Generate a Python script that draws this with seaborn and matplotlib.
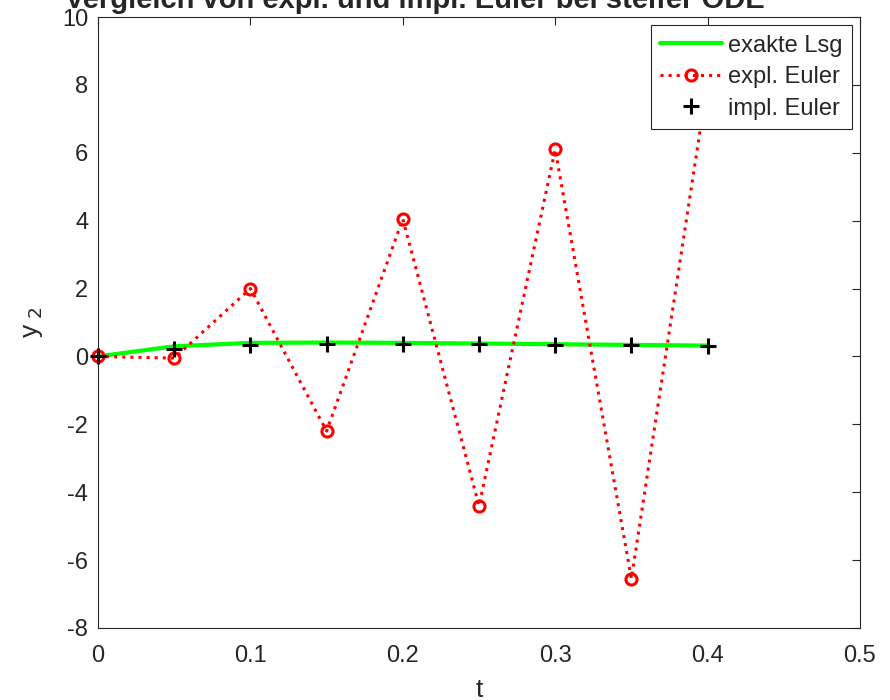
import numpy as np
import pandas as pd
import matplotlib
matplotlib.use("Agg")
import matplotlib.pyplot as plt
import seaborn as sns

t = [0.0, 0.05, 0.10, 0.15, 0.20, 0.25, 0.30, 0.35, 0.40]
exakt = [0.0, 0.30, 0.40, 0.41, 0.40, 0.38, 0.36, 0.34, 0.32]
expl = [0.0, -0.05, 2.0, -2.2, 4.05, -4.4, 6.1, -6.55, 8.1]
impl = [0.0, 0.23, 0.34, 0.37, 0.37, 0.36, 0.34, 0.33, 0.32]

xticks = [0, 0.1, 0.2, 0.3, 0.4, 0.5]
yticks = list(range(-8, 11, 2))

sns.set_style("white")
plt.rcParams['font.family'] = ['Liberation Sans', 'DejaVu Sans']

fig = plt.figure(figsize=(8.9, 7.0), dpi=100)
ax = fig.add_axes([98/890, 1-628/700, (860-98)/890, (628-17)/700])

df = pd.DataFrame({"t": t, "exakt": exakt, "expl": expl, "impl": impl})

sns.lineplot(data=df, x="t", y="exakt", ax=ax, color=(0, 1, 0), linewidth=3,
             label="exakte Lsg", sort=False, estimator=None)
sns.lineplot(data=df, x="t", y="expl", ax=ax, color="red", linestyle=":", linewidth=2.2,
             marker="o", markersize=8, markerfacecolor="none", markeredgecolor="red",
             markeredgewidth=2.2, label="expl. Euler", sort=False, estimator=None,
             clip_on=False)
sns.lineplot(data=df, x="t", y="impl", ax=ax, color="black", linestyle="none",
             marker="+", markersize=12, markeredgewidth=2.2, markeredgecolor="black",
             label="impl. Euler", sort=False, estimator=None, clip_on=False)

ax.set_xlim(0, 0.5)
ax.set_ylim(-8, 10)
ax.set_xticks(xticks)
ax.set_xticklabels([f"{v:g}" for v in xticks])
ax.set_yticks(yticks)
ax.set_yticklabels([str(v) for v in yticks])
ax.tick_params(direction="in", top=True, right=True, length=6, width=0.8,
               labelsize=17, color="#262626", labelcolor="#262626")
ax.tick_params(axis="x", pad=12)
ax.tick_params(axis="y", pad=7)
for s in ax.spines.values():
    s.set_color("#262626")
    s.set_linewidth(0.8)
ax.set_xlabel("t", fontsize=19, color="#262626", labelpad=8)
ax.set_ylabel("y$_{\\ 2}$", fontsize=19, color="#262626", labelpad=12)

leg = ax.legend(loc="upper right", fontsize=17, frameon=True, fancybox=False,
                edgecolor="#262626", framealpha=1, borderpad=0.4,
                handlelength=2.6, handletextpad=0.25, labelspacing=0.4,
                borderaxespad=0.35)
leg.get_frame().set_linewidth(0.8)

fig.text(0.466, 1-8/700, "Vergleich von expl. und impl. Euler bei steifer ODE",
         ha="center", va="baseline", fontsize=21, fontweight="bold")

fig.savefig("out.png", dpi=100)
